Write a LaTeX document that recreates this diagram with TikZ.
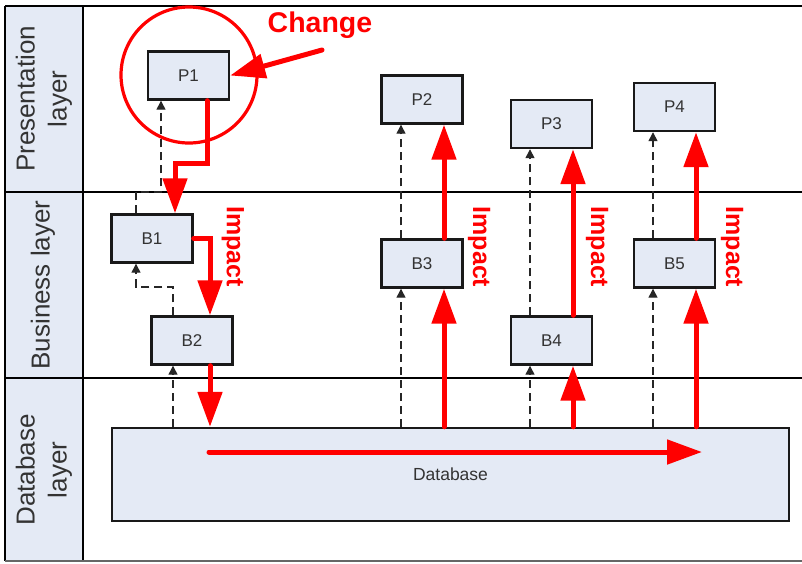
\documentclass[tikz,border=0pt]{standalone}
\usepackage{fontspec}
\setmainfont{Liberation Sans}
\usetikzlibrary{arrows.meta,calc}
\definecolor{boxfill}{HTML}{E4EAF5}
\definecolor{txt}{HTML}{333333}
\definecolor{impred}{HTML}{FF0000}
\begin{document}
\begin{tikzpicture}[x=1pt,y=-1pt,
  box/.style={draw=black!90,line width=2.4pt,fill=boxfill,minimum width=81pt,minimum height=48pt,inner sep=0pt,text=txt,font=\fontsize{17}{19}\selectfont},
  dep/.style={draw=black!85,line width=1.3pt,dash pattern=on 8pt off 5pt,-{Triangle[length=9pt,width=9pt]}},
  imp/.style={draw=impred,line width=5pt,line cap=round,-{Triangle[length=35pt,width=24pt]}},
  lanelbl/.style={rotate=90,align=center,text=txt,font=\fontsize{26}{32}\selectfont},
  implbl/.style={rotate=-90,text=impred,font=\bfseries\fontsize{25}{28}\selectfont}]
\useasboundingbox (0,0) rectangle (802,563);
% lanes
\fill[boxfill] (5,6) rectangle (83,561);
\draw[black,line width=2.5pt] (5,6) -- (802,6);
\draw[black,line width=2.5pt] (5,6) -- (5,561);
\draw[black,line width=2pt] (83,6) -- (83,561);
\draw[black,line width=2pt] (5,192) -- (802,192);
\draw[black,line width=2pt] (5,378) -- (802,378);
\draw[black!60,line width=2pt] (5,561) -- (802,561);
\node[lanelbl] (lp) at (44,99) {Presentation\\layer};
\node[lanelbl] (lb) at (43,285) {Business layer};
\node[lanelbl] (ld) at (44,470) {Database\\layer};
% nodes
\node[box] (P1) at (188.5,75.5) {P1};
\node[box] (P2) at (422,99.5) {P2};
\node[box] (P3) at (551.5,124) {P3};
\node[box] (P4) at (674.5,107) {P4};
\node[box] (B1) at (152,238.5) {B1};
\node[box] (B2) at (192,340.5) {B2};
\node[box] (B3) at (422,263.5) {B3};
\node[box] (B4) at (551.5,340.5) {B4};
\node[box] (B5) at (674.5,263.5) {B5};
\node[box,minimum width=677pt,minimum height=93pt,font=\fontsize{17.5}{20}\selectfont] (DB) at (450.5,474.5) {Database};
% helper coordinates
\coordinate (d1) at (136,0);
\coordinate (d2) at (161,0);
\coordinate (d3) at (173,0);
\coordinate (d4) at (401,0);
\coordinate (d5) at (530,0);
\coordinate (d6) at (653,0);
\coordinate (r1) at (207,0);
\coordinate (r2) at (175,0);
\coordinate (r3) at (210,0);
\coordinate (r4) at (444,0);
\coordinate (r5) at (573,0);
\coordinate (r6) at (696,0);
\coordinate (ky1) at (0,192);
\coordinate (ky2) at (0,287);
\coordinate (ky3) at (0,163);
\coordinate (cs) at (322,50);
\coordinate (hs) at (209,452);
\coordinate (he) at (702,452);
% dashed dependencies
\draw[dep] (d1 |- B1.north) -- (d1 |- ky1) -- (d2 |- ky1) -- (d2 |- P1.south);
\draw[dep] (d3 |- B2.north) -- (d3 |- ky2) -- (d1 |- ky2) -- (d1 |- B1.south);
\draw[dep] (d3 |- DB.north) -- (d3 |- B2.south);
\draw[dep] (d4 |- DB.north) -- (d4 |- B3.south);
\draw[dep] (d4 |- B3.north) -- (d4 |- P2.south);
\draw[dep] (d5 |- DB.north) -- (d5 |- B4.south);
\draw[dep] (d5 |- B4.north) -- (d5 |- P3.south);
\draw[dep] (d6 |- DB.north) -- (d6 |- B5.south);
\draw[dep] (d6 |- B5.north) -- (d6 |- P4.south);
% change circle and arrow
\draw[impred,line width=3.2pt] (189,75) circle (68pt);
\draw[imp] (cs) -- (P1.east);
\node[text=impred,font=\bfseries\fontsize{28.5}{30}\selectfont] (chg) at (320,25) {Change};
% impact arrows
\draw[imp] (r1 |- P1.south) -- (r1 |- ky3) -- (r2 |- ky3) -- (r2 |- B1.north);
\draw[imp] (B1.east) -| (r3 |- B2.north);
\draw[imp] (r3 |- B2.south) -- (r3 |- DB.north);
\draw[imp] (hs) -- (he);
\draw[imp] (r4 |- DB.north) -- (r4 |- B3.south);
\draw[imp] (r4 |- B3.north) -- (r4 |- P2.south);
\draw[imp] (r5 |- DB.north) -- (r5 |- B4.south);
\draw[imp] (r5 |- B4.north) -- (r5 |- P3.south);
\draw[imp] (r6 |- DB.north) -- (r6 |- B5.south);
\draw[imp] (r6 |- B5.north) -- (r6 |- P4.south);
% impact labels
\node[implbl] (i1) at (233,246.5) {Impact};
\node[implbl] (i2) at (479,247) {Impact};
\node[implbl] (i3) at (597,247) {Impact};
\node[implbl] (i4) at (732,247) {Impact};
\end{tikzpicture}
\end{document}
